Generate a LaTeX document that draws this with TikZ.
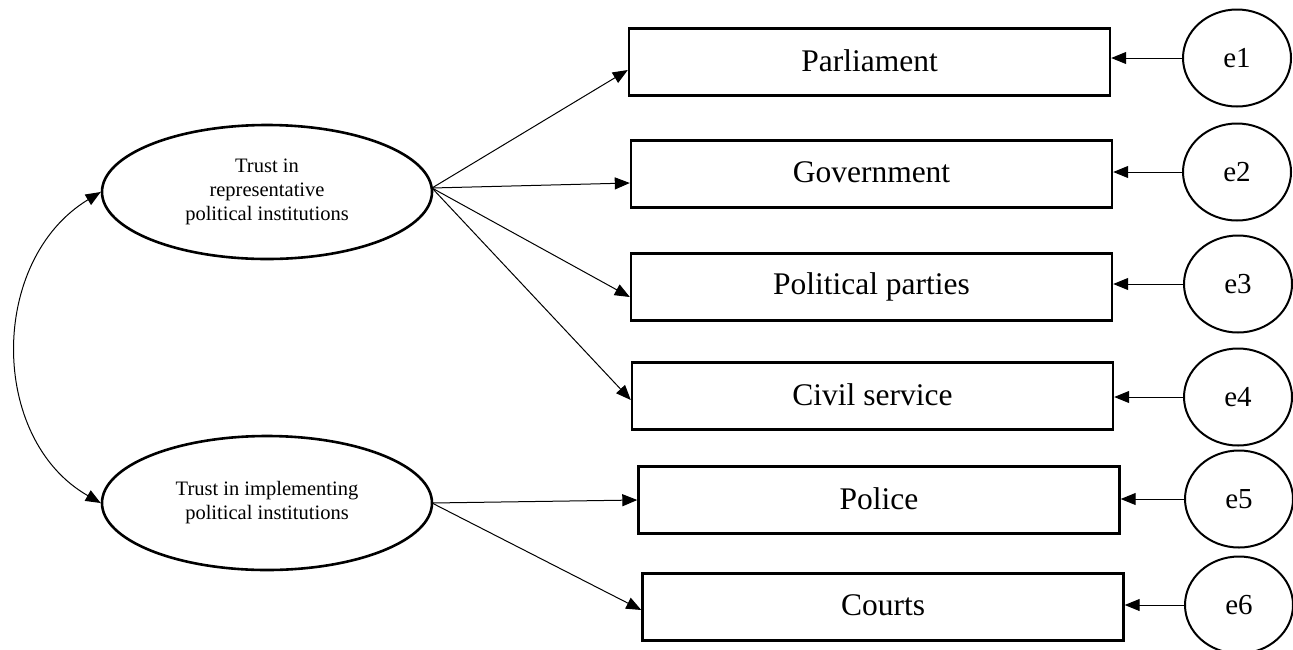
\documentclass[tikz,border=0pt]{standalone}
\usepackage{fontspec}
\setmainfont{Liberation Serif}
\usetikzlibrary{shapes.geometric,arrows.meta}

\newcommand{\boxlabel}[1]{\raisebox{3pt}{#1}}

\tikzset{
  latent/.style={ellipse, draw, line width=2.6pt, minimum width=330pt,
    minimum height=134pt, inner sep=0pt, align=center,
    font=\fontsize{20.5}{24}\selectfont},
  indicator/.style={rectangle, draw, line width=2.4pt, minimum width=481pt,
    minimum height=67pt, inner sep=0pt, font=\fontsize{31.5}{36}\selectfont},
  errorterm/.style={ellipse, draw, line width=2pt, minimum width=108pt,
    minimum height=97pt, inner sep=0pt, font=\fontsize{29}{34}\selectfont},
  path/.style={line width=1pt, -{Triangle[length=15pt,width=12pt]}},
  cov/.style={line width=1pt, {Triangle[length=15pt,width=12pt]}-{Triangle[length=15pt,width=12pt]}}
}

\begin{document}
\begin{tikzpicture}[x=1pt, y=-1pt]
  \useasboundingbox (0,0) rectangle (1293,649);

  % latent factors
  \node[latent] (rep) at (267,192) {Trust in\\representative\\political institutions};
  \node[latent] (imp) at (267,503) {Trust in implementing\\political institutions};

  % observed indicators
  \node[indicator] (parl) at (869.5,62)  {\boxlabel{Parliament}};
  \node[indicator] (gov)  at (871.5,174) {\boxlabel{Government}};
  \node[indicator] (pp)   at (871.5,287) {\boxlabel{Political parties}};
  \node[indicator] (cs)   at (872.5,396) {\boxlabel{Civil service}};
  \node[indicator] (pol)  at (879,500)   {\boxlabel{Police}};
  \node[indicator] (crt)  at (883,607)   {\boxlabel{Courts}};

  % error terms
  \node[errorterm] (e1) at (1237,58)  {e1};
  \node[errorterm] (e2) at (1237,172) {e2};
  \node[errorterm] (e3) at (1238,284) {e3};
  \node[errorterm] (e4) at (1238,397) {e4};
  \node[errorterm] (e5) at (1239,499) {e5};
  \node[errorterm] (e6) at (1239,605) {e6};

  % factor loadings
  \coordinate (repout) at (432,188);
  \coordinate (impout) at (432,503);
  \draw[path] (repout) -- ([yshift=-8pt]parl.west);
  \draw[path] (repout) -- ([yshift=-9pt]gov.west);
  \draw[path] (repout) -- ([yshift=-10pt]pp.west);
  \draw[path] (repout) -- ([yshift=-4pt]cs.west);
  \draw[path] (impout) -- (pol.west);
  \draw[path] (impout) -- ([yshift=-3pt]crt.west);

  % error paths
  \draw[path] (e1.west) -- (e1.west -| parl.east);
  \draw[path] (e2.west) -- (e2.west -| gov.east);
  \draw[path] (e3.west) -- (e3.west -| pp.east);
  \draw[path] (e4.west) -- (e4.west -| cs.east);
  \draw[path] (e5.west) -- (e5.west -| pol.east);
  \draw[path] (e6.west) -- (e6.west -| crt.east);

  % factor covariance
  \draw[cov] (rep.west) .. controls +(-112,68) and +(-112,-64) .. (imp.west);
\end{tikzpicture}
\end{document}
